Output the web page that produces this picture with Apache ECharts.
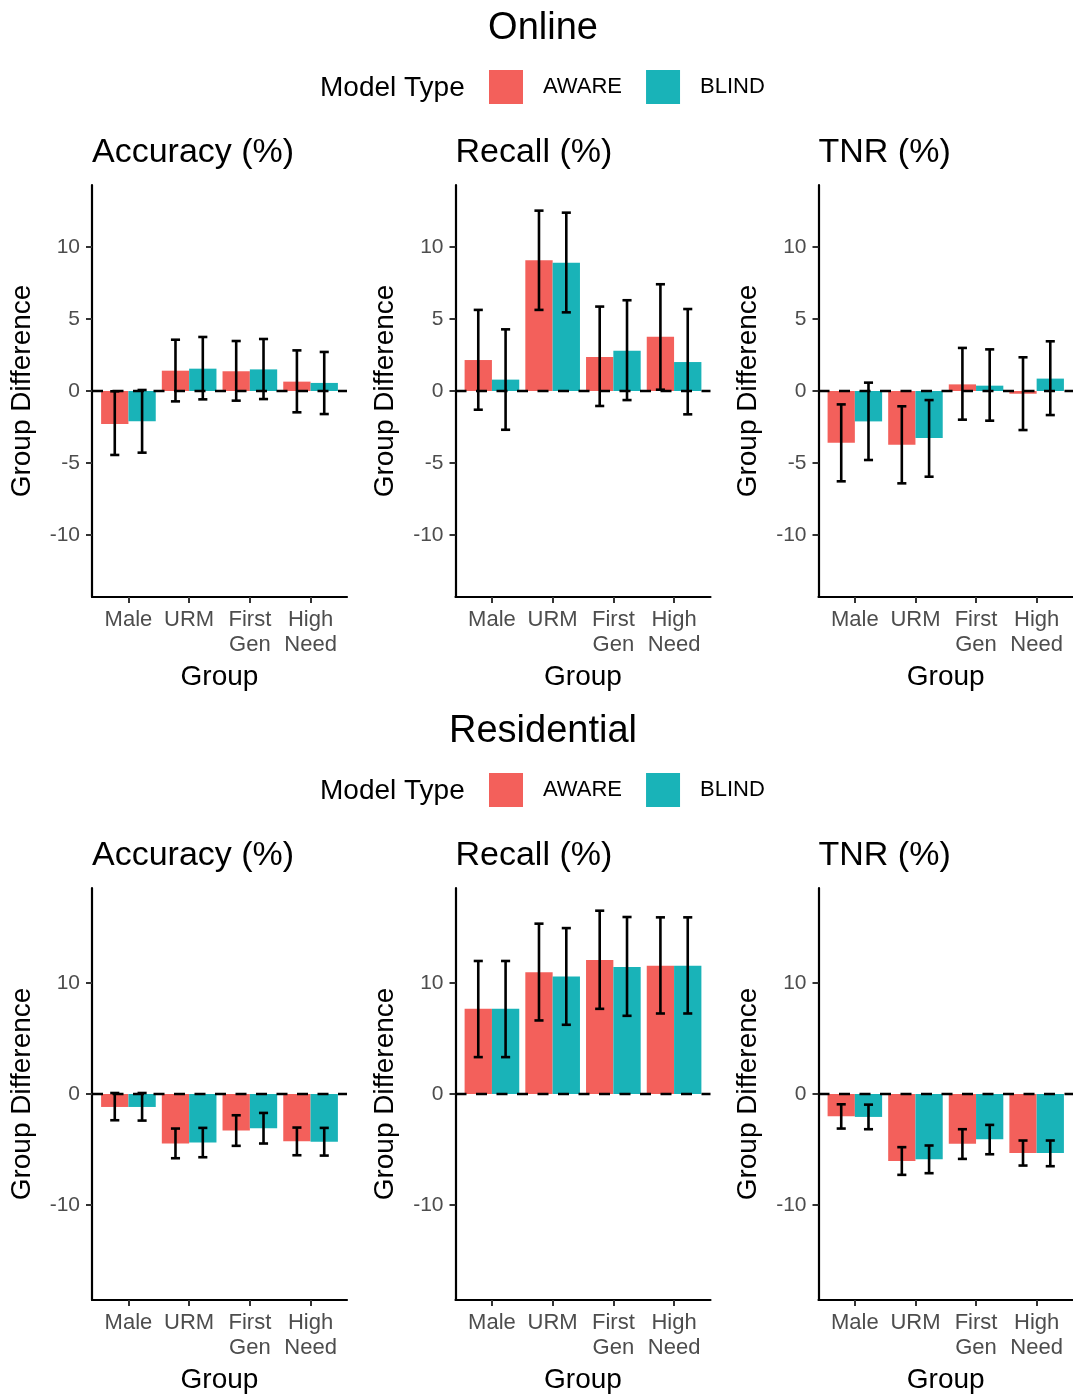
<!DOCTYPE html>
<html>
<head>
<meta charset="utf-8">
<script src="https://cdn.jsdelivr.net/npm/echarts@6/dist/echarts.min.js"></script>
<style>
html, body { margin: 0; padding: 0; background: #fff; }
#main { width: 1073px; height: 1395px; }
</style>
</head>
<body>
<div id="main"></div>
<script>
// categories and labels
const groups = ['Male', 'URM', 'First\nGen', 'High\nNeed'];
const modelTypes = ['AWARE', 'BLIND'];
const sections = ['Online', 'Residential'];
const metrics = ['Accuracy (%)', 'Recall (%)', 'TNR (%)'];
const onlineTicks = [-10, -5, 0, 5, 10];
const residentialTicks = [-10, 0, 10];

// Online: mean group difference and [low, high] interval
const onAccAware = [-2.29, 1.41, 1.37, 0.65];
const onAccAwareCI = [[-4.44, -0.02], [-0.72, 3.56], [-0.67, 3.47], [-1.48, 2.82]];
const onAccBlind = [-2.10, 1.55, 1.50, 0.56];
const onAccBlindCI = [[-4.28, 0.07], [-0.58, 3.75], [-0.56, 3.61], [-1.60, 2.71]];

const onRecAware = [2.15, 9.07, 2.36, 3.77];
const onRecAwareCI = [[-1.30, 5.63], [5.63, 12.52], [-1.04, 5.86], [0.09, 7.41]];
const onRecBlind = [0.79, 8.91, 2.80, 2.01];
const onRecBlindCI = [[-2.69, 4.28], [5.46, 12.38], [-0.63, 6.30], [-1.62, 5.69]];

const onTnrAware = [-3.59, -3.73, 0.46, -0.19];
const onTnrAwareCI = [[-6.27, -0.93], [-6.41, -1.06], [-1.99, 2.99], [-2.71, 2.34]];
const onTnrBlind = [-2.11, -3.26, 0.37, 0.86];
const onTnrBlindCI = [[-4.79, 0.58], [-5.95, -0.63], [-2.06, 2.89], [-1.67, 3.45]];

// Residential
const resAccAware = [-1.17, -4.47, -3.30, -4.26];
const resAccAwareCI = [[-2.37, 0.09], [-5.80, -3.12], [-4.68, -1.92], [-5.53, -3.03]];
const resAccBlind = [-1.17, -4.38, -3.09, -4.32];
const resAccBlindCI = [[-2.40, 0.09], [-5.71, -3.06], [-4.47, -1.71], [-5.56, -3.06]];

const resRecAware = [7.69, 10.99, 12.10, 11.59];
const resRecAwareCI = [[3.33, 12.01], [6.64, 15.38], [7.69, 16.55], [7.27, 15.95]];
const resRecBlind = [7.69, 10.60, 11.47, 11.59];
const resRecBlindCI = [[3.33, 12.01], [6.25, 14.98], [7.06, 15.98], [7.27, 15.95]];

const resTnrAware = [-2.01, -6.04, -4.50, -5.32];
const resTnrAwareCI = [[-3.12, -0.93], [-7.30, -4.80], [-5.86, -3.18], [-6.46, -4.20]];
const resTnrBlind = [-2.07, -5.89, -4.08, -5.32];
const resTnrBlindCI = [[-3.18, -0.96], [-7.15, -4.65], [-5.44, -2.79], [-6.52, -4.20]];

const FONT = '"Liberation Sans", Arial, Helvetica, sans-serif';
const colors = ['#F3605B', '#19B3B8'];

const panels = [
    { s: 0, m: 0, aware: onAccAware, awareCI: onAccAwareCI, blind: onAccBlind, blindCI: onAccBlindCI },
    { s: 0, m: 1, aware: onRecAware, awareCI: onRecAwareCI, blind: onRecBlind, blindCI: onRecBlindCI },
    { s: 0, m: 2, aware: onTnrAware, awareCI: onTnrAwareCI, blind: onTnrBlind, blindCI: onTnrBlindCI },
    { s: 1, m: 0, aware: resAccAware, awareCI: resAccAwareCI, blind: resAccBlind, blindCI: resAccBlindCI },
    { s: 1, m: 1, aware: resRecAware, awareCI: resRecAwareCI, blind: resRecBlind, blindCI: resRecBlindCI },
    { s: 1, m: 2, aware: resTnrAware, awareCI: resTnrAwareCI, blind: resTnrBlind, blindCI: resTnrBlindCI }
];

// layout
const gridLeft = [92, 455.5, 818.5];
const gridWidth = 255;
const gridTop = [185, 888];
const gridHeight = 412;
const yLimit = [14.3, 18.6];
const yTicks = [onlineTicks, residentialTicks];
const sectionTop = [0, 703];

const dodge = 0.45;

function barRender(offset) {
    return function (params, api) {
        const x = api.value(0);
        const y = api.value(1);
        const p0 = api.coord([x + offset, 0]);
        const p1 = api.coord([x + offset + dodge, y]);
        return {
            type: 'rect',
            shape: {
                x: p0[0],
                y: Math.min(p0[1], p1[1]),
                width: p1[0] - p0[0],
                height: Math.abs(p1[1] - p0[1])
            },
            style: { fill: api.visual('color') }
        };
    };
}

function errRender(params, api) {
    const x = api.value(0);
    const lo = api.coord([x, api.value(1)]);
    const hi = api.coord([x, api.value(2)]);
    const half = api.size([0.075, 0])[0];
    const st = { stroke: '#000', lineWidth: 2.6 };
    return {
        type: 'group',
        children: [
            { type: 'line', shape: { x1: lo[0], y1: lo[1], x2: hi[0], y2: hi[1] }, style: st },
            { type: 'line', shape: { x1: lo[0] - half, y1: lo[1], x2: lo[0] + half, y2: lo[1] }, style: st },
            { type: 'line', shape: { x1: hi[0] - half, y1: hi[1], x2: hi[0] + half, y2: hi[1] }, style: st }
        ]
    };
}

function zeroRender(params, api) {
    const cs = params.coordSys;
    const y = api.coord([1, api.value(0)])[1];
    return {
        type: 'line',
        shape: { x1: cs.x, y1: y, x2: cs.x + cs.width, y2: y },
        style: { stroke: '#000', lineWidth: 2.6, lineDash: [11, 9.5] }
    };
}

const grid = [], xAxis = [], yAxis = [], series = [];

panels.forEach(function (p, i) {
    grid.push({ left: gridLeft[p.m], top: gridTop[p.s], width: gridWidth, height: gridHeight });
    xAxis.push({
        type: 'value', gridIndex: i, min: 0.4, max: 4.6,
        name: 'Group', nameLocation: 'middle', nameGap: 66,
        nameTextStyle: { fontSize: 28, color: '#000', fontFamily: FONT },
        axisLine: { onZero: false, lineStyle: { color: '#000', width: 2.2 } },
        axisTick: { customValues: [1, 2, 3, 4], length: 6, lineStyle: { color: '#333', width: 2 } },
        axisLabel: {
            customValues: [1, 2, 3, 4],
            formatter: function (v) { return groups[Math.round(v) - 1]; },
            fontSize: 22, lineHeight: 25, color: '#4D4D4D', fontFamily: FONT, margin: 10
        },
        splitLine: { show: false }
    });
    yAxis.push({
        type: 'value', gridIndex: i, min: -yLimit[p.s], max: yLimit[p.s],
        name: 'Group Difference', nameLocation: 'middle', nameGap: 56, nameRotate: 90,
        nameTextStyle: { fontSize: 28, color: '#000', fontFamily: FONT },
        axisLine: { onZero: false, lineStyle: { color: '#000', width: 2.2 } },
        axisTick: { customValues: yTicks[p.s], length: 6, lineStyle: { color: '#333', width: 2 } },
        axisLabel: { customValues: yTicks[p.s], fontSize: 21, color: '#4D4D4D', fontFamily: FONT, margin: 12 },
        splitLine: { show: false }
    });

    const means = [p.aware, p.blind];
    const cis = [p.awareCI, p.blindCI];
    modelTypes.forEach(function (name, k) {
        series.push({
            type: 'custom', name: name, xAxisIndex: i, yAxisIndex: i, z: 2,
            itemStyle: { color: colors[k] },
            renderItem: barRender(k === 0 ? -dodge : 0),
            encode: { x: 0, y: 1 },
            data: groups.map(function (g, j) { return [j + 1, means[k][j]]; }),
            silent: true
        });
    });
    series.push({
        type: 'custom', xAxisIndex: i, yAxisIndex: i, z: 3,
        renderItem: zeroRender, data: [[0]], silent: true
    });
    modelTypes.forEach(function (name, k) {
        const off = k === 0 ? -dodge / 2 : dodge / 2;
        series.push({
            type: 'custom', xAxisIndex: i, yAxisIndex: i, z: 4,
            renderItem: errRender,
            encode: { x: 0, y: [1, 2] },
            data: groups.map(function (g, j) { return [j + 1 + off, cis[k][j][0], cis[k][j][1]]; }),
            silent: true
        });
    });
});

const graphic = [];
const legend = [];
sections.forEach(function (name, s) {
    const t = sectionTop[s];
    graphic.push({ type: 'text', x: 543, y: t + 29, style: { text: name, font: '38px ' + FONT, fill: '#000', align: 'center', verticalAlign: 'middle' } });
    graphic.push({ type: 'text', x: 320, y: t + 88, style: { text: 'Model Type', font: '28px ' + FONT, fill: '#000', align: 'left', verticalAlign: 'middle' } });
    metrics.forEach(function (m, k) {
        graphic.push({ type: 'text', x: gridLeft[k], y: gridTop[s] - 32, style: { text: m, font: '34px ' + FONT, fill: '#000', align: 'left', verticalAlign: 'middle' } });
    });
    legend.push({
        data: modelTypes, left: 489, top: t + 70, orient: 'horizontal', padding: 0,
        icon: 'rect', itemWidth: 34, itemHeight: 34, itemGap: 24,
        selectedMode: false,
        textStyle: { fontSize: 22, color: '#000', fontFamily: FONT, padding: [2, 0, 0, 15] }
    });
});

const chart = echarts.init(document.getElementById('main'), null, { renderer: 'canvas' });
chart.setOption({
    animation: false,
    backgroundColor: '#fff',
    grid: grid,
    xAxis: xAxis,
    yAxis: yAxis,
    legend: legend,
    graphic: graphic,
    series: series
});
</script>
</body>
</html>
